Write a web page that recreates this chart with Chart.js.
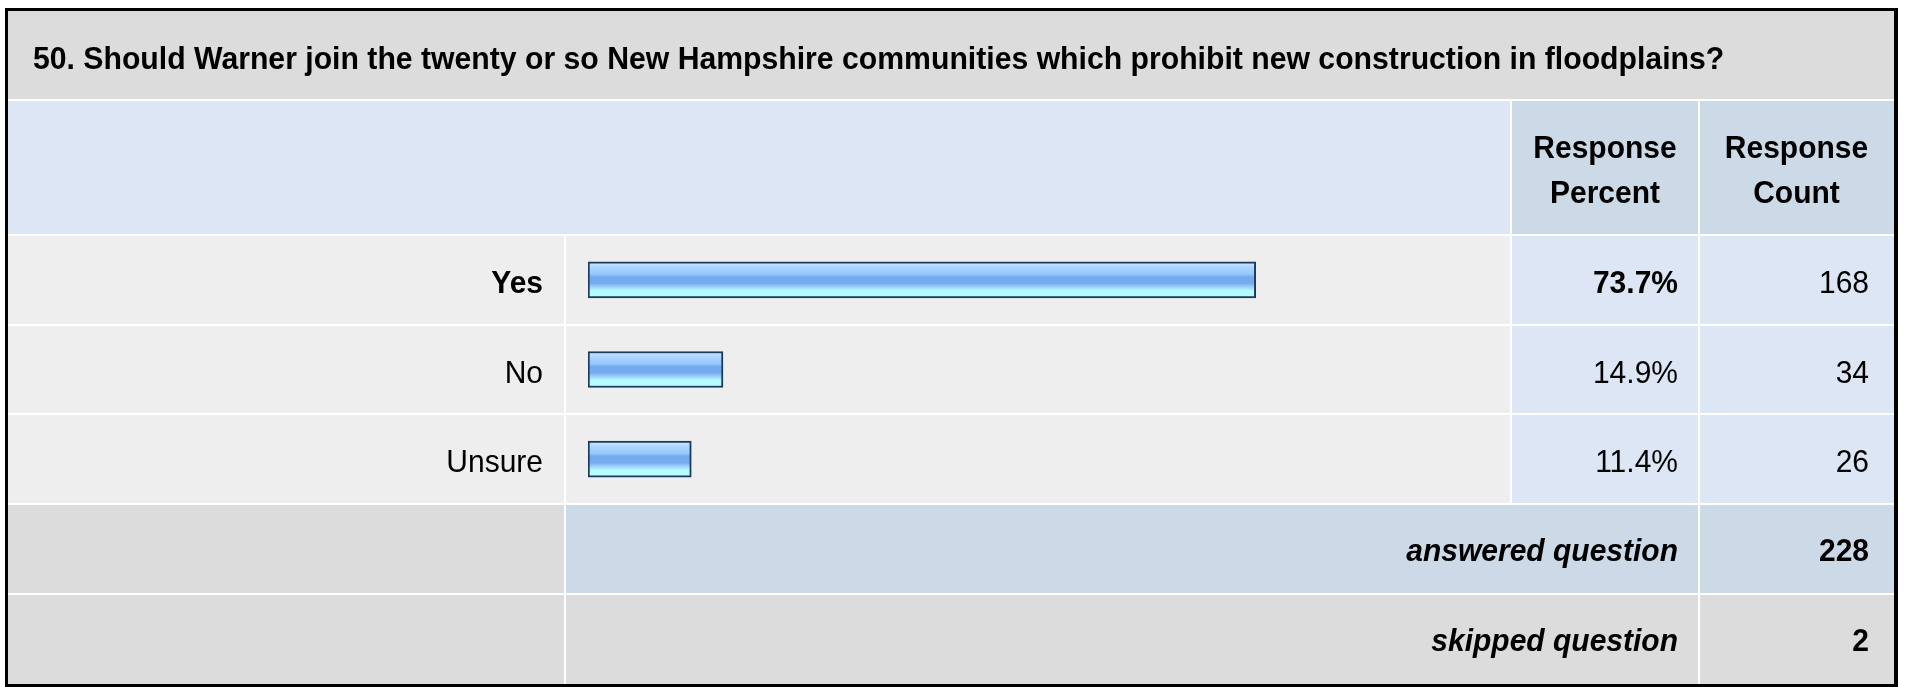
<!DOCTYPE html>
<html>
<head>
<meta charset="utf-8">
<title>Survey question 50</title>
<script src="https://cdn.jsdelivr.net/npm/chart.js@4.4.1/dist/chart.umd.min.js"></script>
<style>
    body { margin: 0; background: #ffffff; }
    #chart { display: block; }
</style>
</head>
<body>
<canvas id="chart" width="1907" height="687"></canvas>
<script>
// survey data
var question = '50. Should Warner join the twenty or so New Hampshire communities which prohibit new construction in floodplains?';
var categories = ['Yes', 'No', 'Unsure'];
var percents = [73.7, 14.9, 11.4];
var counts = [168, 34, 26];
var answeredCount = 228;
var skippedCount = 2;

// table grid (px)
var colX = [8, 565, 1511, 1699, 1894];
var rowY = [11, 100, 235, 325, 414, 504, 594, 684];
var FONT = '"Liberation Sans", Arial, Helvetica, sans-serif';

function cell(ctx, x1, y1, x2, y2, color) {
    ctx.fillStyle = color;
    ctx.fillRect(x1 + 1, y1 + 1, x2 - x1 - 2, y2 - y1 - 2);
}

// text is a bit taller than plain Arial in the original, so stretch it a little
function txt(ctx, s, x, y, align, weight, size) {
    ctx.save();
    ctx.font = weight + ' ' + (size || 30) + 'px ' + FONT;
    ctx.textAlign = align;
    ctx.textBaseline = 'alphabetic';
    ctx.fillStyle = '#000000';
    ctx.translate(x, y);
    ctx.scale(1, 1.05);
    ctx.fillText(s, 0, 0);
    ctx.restore();
}

var tablePlugin = {
    id: 'surveyTable',
    beforeDraw: function (chart) {
        var ctx = chart.ctx;
        ctx.save();
        // outer frame
        ctx.fillStyle = '#000000';
        ctx.fillRect(5, 8, 1893, 679);
        ctx.fillStyle = '#ffffff';
        ctx.fillRect(8, 11, 1886, 673);

        cell(ctx, colX[0] - 1, rowY[0] - 1, colX[4] + 1, rowY[1], '#dcdcdc');
        // header
        cell(ctx, colX[0] - 1, rowY[1], colX[2], rowY[2], '#dce6f4');
        cell(ctx, colX[2], rowY[1], colX[3], rowY[2], '#ccd9e6');
        cell(ctx, colX[3], rowY[1], colX[4] + 1, rowY[2], '#ccd9e6');
        // answer rows
        for (var i = 0; i < categories.length; i++) {
            var a = rowY[2 + i], b = rowY[3 + i];
            cell(ctx, colX[0] - 1, a, colX[1], b, '#eeeeee');
            cell(ctx, colX[1], a, colX[2], b, '#eeeeee');
            cell(ctx, colX[2], a, colX[3], b, '#dce6f4');
            cell(ctx, colX[3], a, colX[4] + 1, b, '#dce6f4');
        }
        // answered / skipped
        cell(ctx, colX[0] - 1, rowY[5], colX[1], rowY[6], '#dcdcdc');
        cell(ctx, colX[1], rowY[5], colX[3], rowY[6], '#ccd9e6');
        cell(ctx, colX[3], rowY[5], colX[4] + 1, rowY[6], '#ccd9e6');
        cell(ctx, colX[0] - 1, rowY[6], colX[1], rowY[7] + 1, '#dcdcdc');
        cell(ctx, colX[1], rowY[6], colX[3], rowY[7] + 1, '#dcdcdc');
        cell(ctx, colX[3], rowY[6], colX[4] + 1, rowY[7] + 1, '#dcdcdc');
        ctx.restore();
    },
    afterDraw: function (chart) {
        var ctx = chart.ctx;
        var yScale = chart.scales.y;
        var top = percents.indexOf(Math.max.apply(null, percents));
        ctx.save();
        txt(ctx, question, 33, 69, 'left', 'bold', 30.2);

        var pc = (colX[2] + colX[3]) / 2, cc = (colX[3] + colX[4]) / 2;
        txt(ctx, 'Response', pc, 158, 'center', 'bold');
        txt(ctx, 'Percent', pc, 203, 'center', 'bold');
        txt(ctx, 'Response', cc, 158, 'center', 'bold');
        txt(ctx, 'Count', cc, 203, 'center', 'bold');

        categories.forEach(function (c, i) {
            var y = yScale.getPixelForValue(i) + 13;
            var w = i === top ? 'bold' : 'normal';
            txt(ctx, c, 543, y, 'right', w);
            txt(ctx, percents[i].toFixed(1) + '%', 1678, y, 'right', w);
            txt(ctx, String(counts[i]), 1869, y, 'right', 'normal');
        });

        txt(ctx, 'answered question', 1678, 561, 'right', 'italic bold');
        txt(ctx, String(answeredCount), 1869, 561, 'right', 'bold');
        txt(ctx, 'skipped question', 1678, 651, 'right', 'italic bold');
        txt(ctx, String(skippedCount), 1869, 651, 'right', 'bold');
        ctx.restore();
    }
};

function barFill(context) {
    var chart = context.chart;
    if (!chart.chartArea || !chart.scales.y) {
        return '#94c6fa';
    }
    var yc = chart.scales.y.getPixelForValue(context.dataIndex);
    var g = chart.ctx.createLinearGradient(0, yc - 17, 0, yc + 17);
    g.addColorStop(0, '#c8e4ff');
    g.addColorStop(0.15, '#a8d4ff');
    g.addColorStop(0.33, '#96c8fb');
    g.addColorStop(0.42, '#74aaee');
    g.addColorStop(0.6, '#76acef');
    g.addColorStop(0.7, '#9ccdf8');
    g.addColorStop(0.82, '#b2fcff');
    g.addColorStop(1, '#b6ffff');
    return g;
}

document.addEventListener('DOMContentLoaded', function () {
    var el = document.getElementById('chart');
    new Chart(el, {
        type: 'bar',
        data: {
            labels: categories,
            datasets: [{
                data: percents,
                backgroundColor: barFill,
                borderColor: '#1c3a5e',
                borderWidth: 2,
                borderSkipped: false,
                barThickness: 36
            }]
        },
        options: {
            indexAxis: 'y',
            responsive: false,
            animation: false,
            devicePixelRatio: 1,
            layout: {
                padding: { left: 588, right: 413, top: rowY[2], bottom: 687 - rowY[5] }
            },
            scales: {
                x: { min: 0, max: 100, display: false },
                y: { display: false }
            },
            plugins: {
                legend: { display: false },
                tooltip: { enabled: false }
            }
        },
        plugins: [tablePlugin]
    });
});
</script>
</body>
</html>
